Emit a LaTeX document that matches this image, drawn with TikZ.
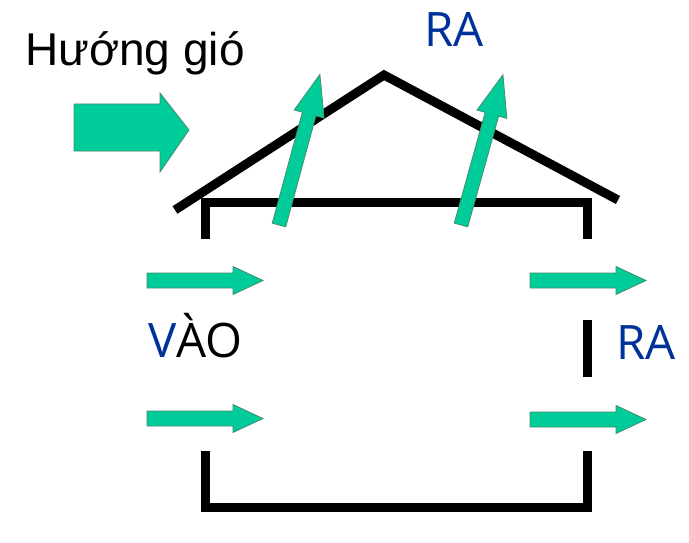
\documentclass[tikz,border=0pt]{standalone}
\usepackage{fontspec}
\setmainfont{Liberation Sans}
\newfontfamily\labfont{Open Sans}
\definecolor{airgreen}{RGB}{0,204,153}
\definecolor{airedge}{RGB}{70,140,110}
\definecolor{labblue}{RGB}{0,51,153}
\begin{document}
\begin{tikzpicture}[x=1pt,y=-1pt,
  wall/.style={line width=9.5pt,line cap=butt,line join=miter},
  roofline/.style={line width=9pt,line cap=butt,line join=miter},
  airflow/.style={fill=airgreen,draw=airedge,line width=0.8pt,line join=miter},
  lbl/.style={inner sep=0pt,anchor=base west}]
\useasboundingbox[fill=white] (0,0) rectangle (689,543);

% house walls
\draw[wall] (205.5,239) -- (205.5,202.5) -- (592,202.5);
\draw[wall] (587.5,202.5) -- (587.5,239);
\draw[wall] (587.5,320) -- (587.5,377);
\draw[wall] (205.5,451) -- (205.5,507.5) -- (587.5,507.5) -- (587.5,451);
% roof
\draw[roofline] (175,210) -- (384,75) -- (618,200);

% wind arrow
\draw[airflow] (74,104) -- (160,104) -- (160,93) -- (189,130) -- (160,172) -- (160,151) -- (74,151) -- cycle;

% horizontal arrows
\foreach \nm/\xx/\yy in {inA/147/280.5, inB/147/418.5, outA/530/280.5, outB/530/419.5}{
  \draw[airflow] (\xx,\yy-7.5) -- ++(86,0) -- ++(0,-6.5) -- ++(30,14) -- ++(-30,14) -- ++(0,-6.5) -- ++(-86,0) -- cycle;
}

% roof outlet arrows
\foreach \bx/\by/\ang in {279/225/74.8, 461/225/74.4}{
  \begin{scope}[shift={(\bx,\by)},rotate=\ang]
    \draw[airflow] (0,-7) -- (115,-7) -- (115,-15.5) -- (156,0) -- (115,15.5) -- (115,7) -- (0,7) -- cycle;
  \end{scope}
}

% labels
\node[lbl,font=\fontsize{46}{50}\selectfont] (wind) at (25,66) {Hướng gió};
\node[lbl,font=\labfont\fontsize{47.5}{52}\selectfont,text=labblue] (raTop) at (424,47) {RA};
\node[lbl,font=\labfont\fontsize{47.5}{52}\selectfont] (vao) at (148,357) {\textcolor{labblue}{V}ÀO};
\node[lbl,font=\labfont\fontsize{47.5}{52}\selectfont,text=labblue] (raSide) at (616,359) {RA};
\end{tikzpicture}
\end{document}
